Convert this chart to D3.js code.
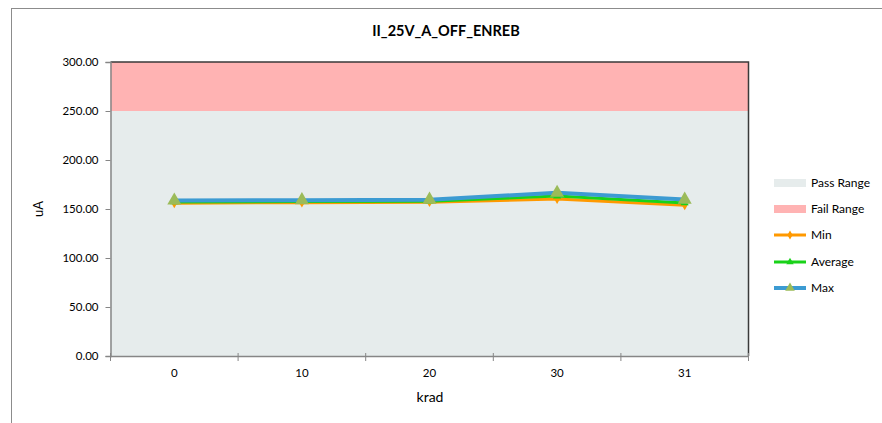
<!DOCTYPE html>
<html><head><meta charset="utf-8">
<script src="https://cdn.jsdelivr.net/npm/d3@7"></script>
<style>html,body{margin:0;padding:0;background:#fff;}svg{display:block;font-family:Lato,"Open Sans",sans-serif;}</style>
</head><body>
<svg id="chart" width="882" height="423"></svg>
<script>
const title = "II_25V_A_OFF_ENREB";
const categories = ["0", "10", "20", "30", "31"];
const minValues = [155.9, 156.5, 157.0, 160.2, 153.8];
const avgValues = [157.2, 157.6, 158.0, 163.2, 156.2];
const maxValues = [158.7, 159.0, 159.5, 166.6, 159.6];
const passRange = [0, 250];
const failRange = [250, 300];
const yTicks = [0, 50, 100, 150, 200, 250, 300];
const xLabel = "krad";
const yLabel = "uA";

(function () {
const svg = d3.select("#chart");
const pLeft = 110.5, pRight = 748.5, pTop = 62, pBottom = 356;
const x = d3.scaleBand().domain(categories).range([pLeft, pRight]).padding(0);
const y = d3.scaleLinear().domain([0, 300]).range([pBottom, pTop]);

// outer frame
svg.append("rect").attr("x", 11.5).attr("y", 8.5).attr("width", 900).attr("height", 440)
  .attr("fill", "none").attr("stroke", "#8c8c8c").attr("stroke-width", 1);

// title
svg.append("text").attr("x", 446).attr("y", 36).attr("text-anchor", "middle")
  .attr("font-weight", "bold").attr("font-size", 14.5).attr("fill", "#000").text(title);

// ranges
svg.append("rect").attr("x", pLeft).attr("width", pRight - pLeft)
  .attr("y", y(passRange[1])).attr("height", y(passRange[0]) - y(passRange[1])).attr("fill", "#E6ECEC");
svg.append("rect").attr("x", pLeft).attr("width", pRight - pLeft)
  .attr("y", y(failRange[1])).attr("height", y(failRange[0]) - y(failRange[1])).attr("fill", "#FFB3B3");
// top and right edges
svg.append("path").attr("d", `M${pLeft},${y(300)}H${pRight}V${pBottom}`)
  .attr("fill", "none").attr("stroke", "#3a3a3a").attr("stroke-width", 1.5);

// y axis
const yAxis = svg.append("g").attr("transform", `translate(${pLeft},0)`)
  .call(d3.axisLeft(y).tickValues(yTicks).tickFormat(d3.format(".2f")).tickSizeOuter(0).tickSize(5).tickPadding(7));
yAxis.select(".domain").attr("stroke", "#868686").attr("stroke-width", 1.5);
yAxis.selectAll(".tick line").attr("stroke", "#868686");
yAxis.selectAll("text").attr("font-size", 11.5).attr("fill", "#000").attr("font-family", "Lato");

// x axis
const xAxis = svg.append("g").attr("transform", `translate(0,${pBottom})`)
  .call(d3.axisBottom(x).tickSize(0).tickPadding(13));
xAxis.select(".domain").attr("stroke", "#868686").attr("stroke-width", 1.5);
xAxis.selectAll("text").attr("font-size", 11.5).attr("fill", "#000").attr("font-family", "Lato");
const bounds = categories.map(c => x(c)).concat([x(categories[categories.length-1]) + x.bandwidth()]);
svg.append("g").selectAll("line").data(bounds).join("line")
  .attr("x1", d => d).attr("x2", d => d).attr("y1", pBottom - 3).attr("y2", pBottom + 5)
  .attr("stroke", "#868686").attr("stroke-width", 1);

// axis titles
svg.append("text").attr("x", 430).attr("y", 402).attr("text-anchor", "middle")
  .attr("font-size", 14).attr("fill", "#000").text(xLabel);
svg.append("text").attr("transform", "translate(43,209) rotate(-90)").attr("text-anchor", "middle")
  .attr("font-size", 13).attr("fill", "#000").text(yLabel);

// series
const cx = c => x(c) + x.bandwidth() / 2;
const series = [
  {name: "Min", values: minValues, color: "#FF9900", width: 3, marker: "diamond", mcolor: "#FF9900", msize: 28, lsize: 24},
  {name: "Average", values: avgValues, color: "#19D219", width: 3, marker: "triangle", mcolor: "#19D219", msize: 28, lsize: 24},
  {name: "Max", values: maxValues, color: "#3C9BD2", width: 4, marker: "triangle", mcolor: "#9BBB59", msize: 85, lsize: 40}
];
const symbolOf = m => m === "diamond" ? d3.symbolDiamond : d3.symbolTriangle;
const line = d3.line().x(d => cx(d.c)).y(d => y(d.v));
series.forEach(s => {
  const pts = categories.map((c, i) => ({c, v: s.values[i]}));
  svg.append("path").datum(pts).attr("d", line).attr("fill", "none")
    .attr("stroke", s.color).attr("stroke-width", s.width).attr("stroke-linejoin", "round");
  svg.append("g").selectAll("path").data(pts).join("path")
    .attr("transform", d => `translate(${cx(d.c)},${y(d.v)})`)
    .attr("d", d3.symbol().type(symbolOf(s.marker)).size(s.msize))
    .attr("fill", s.mcolor);
});

// legend
const lg = svg.append("g");
const lx = 774, lw = 32, tx = 811;
const rows = [183, 209, 235, 262, 288];
lg.append("rect").attr("x", lx).attr("y", rows[0] - 4).attr("width", lw).attr("height", 8).attr("fill", "#E6ECEC");
lg.append("text").attr("x", tx).attr("y", rows[0] + 4).attr("font-size", 12).text("Pass Range");
lg.append("rect").attr("x", lx).attr("y", rows[1] - 4).attr("width", lw).attr("height", 8).attr("fill", "#FFB3B3");
lg.append("text").attr("x", tx).attr("y", rows[1] + 4).attr("font-size", 12).text("Fail Range");
series.forEach((s, i) => {
  const ry = rows[i + 2];
  lg.append("line").attr("x1", lx).attr("x2", lx + lw).attr("y1", ry).attr("y2", ry)
    .attr("stroke", s.color).attr("stroke-width", s.width);
  lg.append("path").attr("transform", `translate(${lx + lw / 2},${ry})`)
    .attr("d", d3.symbol().type(symbolOf(s.marker)).size(s.lsize)).attr("fill", s.mcolor);
  lg.append("text").attr("x", tx).attr("y", ry + 4).attr("font-size", 12).text(s.name);
});
})();
</script>
</body></html>
